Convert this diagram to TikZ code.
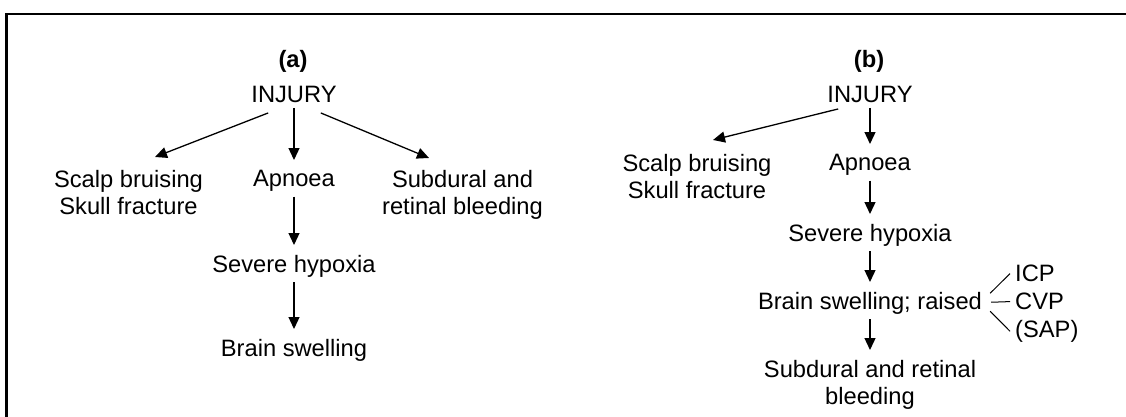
\documentclass[tikz,border=0pt]{standalone}
\usepackage{fontspec}
\setmainfont{Liberation Sans}
\usetikzlibrary{arrows.meta,calc}

\begin{document}
\begin{tikzpicture}[x=1pt,y=-1pt,
      txt/.style={inner sep=0pt,anchor=north,align=center,font=\fontsize{23.7}{27}\selectfont},
      flow/.style={-{Triangle[length=12pt,width=11pt]},line width=1.3pt,shorten <=5pt,shorten >=10pt},
      branch/.style={line width=1pt}]
      \useasboundingbox (0,0) rectangle (1126,417);
      \draw[line width=2.5pt] (1132,14) -- (6.5,14) -- (6.5,422);
      % (a)
      \node[txt,font=\fontsize{23.7}{27}\selectfont\bfseries] (laba) at (293,50) {(a)};
      \node[txt] (inja) at (294,86) {INJURY};
      \node[txt] (scalpa) at (128.5,170) {Scalp bruising\\Skull fracture};
      \node[txt] (apna) at (294,170) {Apnoea};
      \node[txt] (subda) at (462.5,170) {Subdural and\\retinal bleeding};
      \node[txt] (hypa) at (294,255) {Severe hypoxia};
      \node[txt] (swella) at (294,339) {Brain swelling};
      \draw[flow,shorten <=0pt,shorten >=0pt] ($(inja.south west)+(17,10)$) -- ($(scalpa.north)+(26.5,-13)$);
      \draw[flow,shorten <=0pt,shorten >=0pt] ($(inja.south east)+(-16,10)$) -- ($(subda.north)+(-33.5,-12)$);
      \draw[flow] (inja.south) -- (apna.north);
      \draw[flow] (apna.south) -- (hypa.north);
      \draw[flow] (hypa.south) -- (swella.north);
      % (b)
      \node[txt,font=\fontsize{23.7}{27}\selectfont\bfseries] (labb) at (869,50) {(b)};
      \node[txt] (injb) at (870,86) {INJURY};
      \node[txt] (scalpb) at (697,154) {Scalp bruising\\Skull fracture};
      \node[txt] (apnb) at (870,154) {Apnoea};
      \node[txt] (hypb) at (870,224) {Severe hypoxia};
      \node[txt] (swellb) at (870,292) {Brain swelling; raised};
      \node[txt] (subdb) at (870,360) {Subdural and retinal\\bleeding};
      \node[txt,anchor=north west] (icp) at (1015,265) {ICP};
      \node[txt,anchor=north west] (cvp) at (1015,293) {CVP};
      \node[txt,anchor=north west] (sap) at (1015,320) {(SAP)};
      \draw[flow,shorten <=0pt,shorten >=0pt] ($(injb.south west)+(11,6)$) -- ($(scalpb.north)+(16,-14)$);
      \draw[flow] (injb.south) -- (apnb.north);
      \draw[flow] (apnb.south) -- (hypb.north);
      \draw[flow] (hypb.south) -- (swellb.north);
      \draw[flow] (swellb.south) -- (subdb.north);
      \draw[branch] ($(swellb.east)+(8,-10)$) -- ($(icp.west)+(-5,0)$);
      \draw[branch] ($(swellb.east)+(9,-1)$) -- ($(cvp.west)+(-5,0)$);
      \draw[branch] ($(swellb.east)+(8,8)$) -- ($(sap.west)+(-5,0)$);
    \end{tikzpicture}
\end{document}
